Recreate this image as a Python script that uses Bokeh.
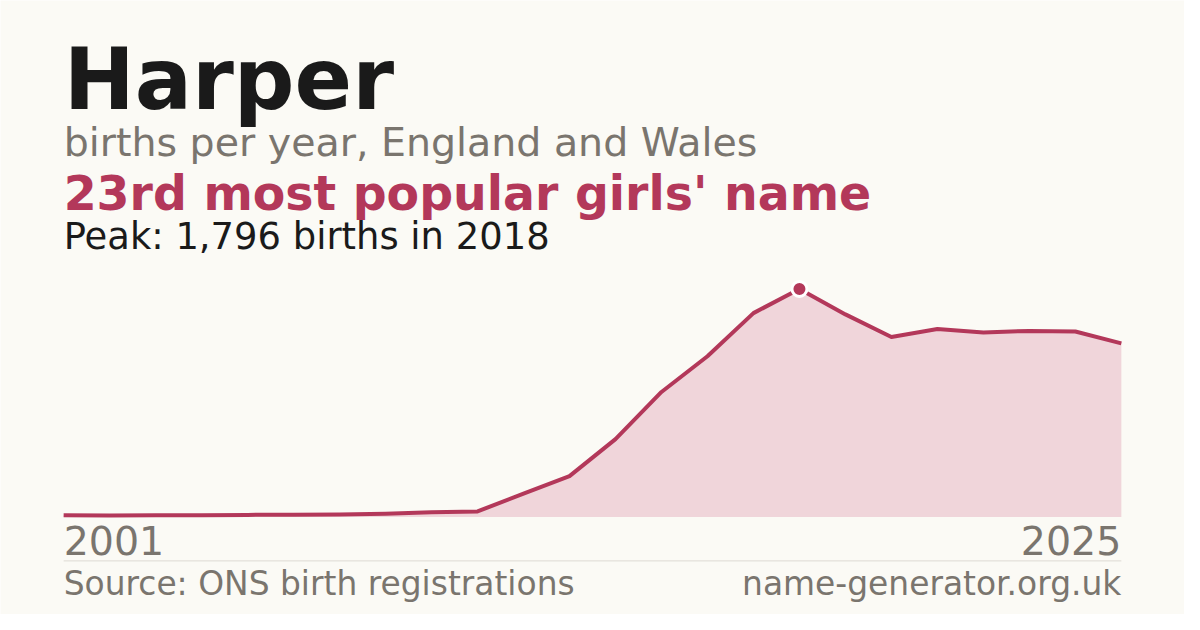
from bokeh.plotting import figure
from bokeh.models import Label, Range1d
from bokeh.embed import file_html
from bokeh.resources import INLINE

# ---- data ----
name = "Harper"
subtitle = "births per year, England and Wales"
rank_text = "23rd most popular girls' name"
years = list(range(2002, 2026))
births = [14, 12, 14, 15, 17, 18, 20, 25, 38, 44, 185, 322,
          614, 985, 1266, 1606, 1796, 1596, 1418, 1481, 1453, 1466, 1461, 1368]
tick_labels = ["2001", "2025"]
source_text = "Source: ONS birth registrations"
site_text = "name-generator.org.uk"

# ---- style ----
BG = "#fbfaf5"
RED = "#b3385a"
FILL = "#f0d5da"
DARK = "#1a1a1a"
GRAY = "#7a756e"
RULE = "#dddad3"
FONT = "DejaVu Sans"

W, H = 1184, 614
SX, SY = W / 1200, H / 630       # layout designed on a 1200x630 grid


def cx(v):
    return v * SX


def cy(v):                      # top-based design px -> bottom-based canvas px
    return H - v * SY


LEFT, RIGHT = cx(64), cx(1136)
BASE, TOP = cy(530), cy(296)

peak = max(births)
peak_year = years[births.index(peak)]

kx = (RIGHT - LEFT) / (years[-1] - years[0])
ky = (TOP - BASE) / peak
x_range = Range1d(years[0] - LEFT / kx, years[0] + (W - LEFT) / kx)
y_range = Range1d(-BASE / ky, (H - BASE) / ky)

p = figure(width=W, height=H, x_range=x_range, y_range=y_range,
           output_backend="svg", toolbar_location=None, min_border=0,
           x_axis_location=None, y_axis_location=None,
           background_fill_color=BG, border_fill_color=BG,
           outline_line_color=None)
p.title.visible = False
p.grid.visible = False

p.varea(x=years, y1=[0] * len(years), y2=births, fill_color=FILL)
p.line(years, births, line_color=RED, line_width=4, line_join="round")
p.scatter([peak_year], [peak], size=15, fill_color=RED,
          line_color="white", line_width=3)

ysep = (cy(575) - BASE) / ky
p.segment(x0=[years[0]], x1=[years[-1]], y0=[ysep], y1=[ysep],
          line_color=RULE, line_width=1)


def lab(text, x, base, size, color, shift, bold=False, align="left", xu="screen"):
    fs = size * SX
    p.add_layout(Label(x=x, y=cy(base) + shift * fs, x_units=xu, y_units="screen",
                       text=text, text_font=FONT, text_font_size=f"{fs:.1f}px",
                       text_font_style="bold" if bold else "normal",
                       text_color=color, text_align=align,
                       text_baseline="alphabetic"))


lab(name, LEFT, 112, 86, DARK, 0.353, bold=True)
lab(subtitle, LEFT, 161, 40, GRAY, 0.40)
lab(rank_text, LEFT, 218.5, 48, RED, 0.42, bold=True)
lab(f"Peak: {peak:,} births in {peak_year}", LEFT, 255, 37.4, DARK, 0.33)
lab(tick_labels[0], years[0], 570, 40, GRAY, 0.40, xu="data")
lab(tick_labels[1], years[-1], 570, 40, GRAY, 0.40, align="right", xu="data")
lab(source_text, LEFT, 609, 33.3, GRAY, 0.31)
lab(site_text, RIGHT, 609, 33.3, GRAY, 0.31, align="right")

open("out.html", "w").write(file_html(p, INLINE))
